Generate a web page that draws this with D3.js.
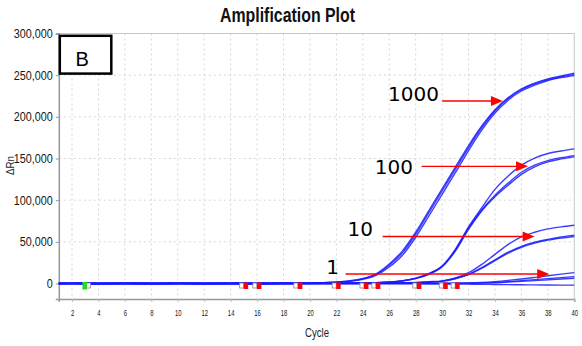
<!DOCTYPE html>
<html><head><meta charset="utf-8">
<script src="https://cdn.jsdelivr.net/npm/d3@7"></script>
<style>
html,body{margin:0;padding:0;background:#fff;}
svg{display:block;}
.tick text{font-family:"Liberation Sans",Arial,sans-serif;fill:#151515;}
</style></head>
<body>
<svg id="chart" width="582" height="346"></svg>
<script>
// ---------- DATA ----------
const cycles = d3.range(1, 41);
const xTicks = [2,4,6,8,10,12,14,16,18,20,22,24,26,28,30,32,34,36,38,40];
const yTicks = [0,50000,100000,150000,200000,250000,300000];
const yTickLabels = ["0","50,000","100,000","150,000","200,000","250,000","300,000"];

// ΔRn per cycle (cycles 1..40): three replicates per dilution + one flat control
const rep1000a = [300,200,300,200,100,200,300,200,100,200,300,200,100,200,300,200,300,400,500,700,1000,1700,3000,5600,11000,22000,37000,59000,85000,111000,137000,163000,187000,207000,222000,232500,239500,244500,248000,251000];
const rep1000b = [-200,-100,-200,-300,-200,-100,-200,-300,-200,-100,-200,-100,-200,-300,-200,-100,0,100,300,500,800,1400,2600,5000,9800,19800,34000,55500,81000,107000,133000,159500,184000,204500,220000,231000,238000,243500,247000,249500];
const rep1000c = [0,100,0,-100,0,100,0,-100,0,100,0,-100,0,100,0,-100,100,200,400,600,1000,1800,3200,6000,11700,23500,39200,61500,87600,113600,139600,165500,189000,208500,223000,233500,240500,245500,249000,252500];

const rep100a = [200,300,200,100,200,300,200,100,200,300,200,100,200,300,200,100,200,300,200,200,300,400,500,700,1000,1800,3400,6400,12000,21000,41000,68000,91000,113000,129000,142000,150500,156000,159000,161500];
const rep100b = [-300,-200,-300,-400,-300,-200,-300,-400,-300,-200,-300,-400,-300,-200,-300,-400,-300,-200,-200,-100,0,100,200,300,700,1500,3000,5800,11000,20000,39000,65000,87000,104000,118000,131000,140000,146000,149500,152000];
const rep100c = [0,-100,0,100,0,-100,0,100,0,-100,0,100,0,-100,0,100,0,0,100,100,200,300,400,500,850,1650,3200,6100,11500,20500,40000,66500,88500,106000,120500,133500,142000,147500,151000,153500];

const rep10a = [300,200,300,400,300,200,300,400,300,200,300,400,300,200,300,200,300,200,300,300,300,300,400,400,500,600,800,1300,2100,3200,6800,13000,23000,35000,47000,56000,61500,65500,68000,70000];
const rep10b = [-100,0,-100,-200,-100,0,-100,-200,-100,0,-100,-200,-100,0,-100,0,-100,0,0,0,100,100,200,200,300,400,600,1000,1700,2800,6000,11000,19000,28500,37500,44500,49500,53000,55800,58000];
const rep10c = [-400,-300,-400,-500,-400,-300,-400,-500,-400,-300,-400,-500,-400,-300,-400,-300,-400,-300,-300,-200,-200,-100,0,100,200,300,500,900,1500,2600,5700,10600,18400,27500,36500,43500,48500,52000,54500,56500];

const rep1a = [100,200,100,0,100,200,100,0,100,200,100,0,100,200,100,0,100,200,100,100,100,100,100,100,100,100,100,100,100,150,300,700,1300,2300,3700,5400,7300,9300,11200,13000];
const rep1b = [-200,-100,-200,-300,-200,-100,-200,-300,-200,-100,-200,-300,-200,-100,-200,-300,-200,-100,-100,-100,-100,-100,-100,-100,-100,-100,-100,-100,0,50,150,400,800,1400,2300,3400,4600,5900,7100,8200];
const rep1c = [0,100,0,-100,0,100,0,-100,0,100,0,-100,0,100,0,-100,0,100,0,0,0,0,0,0,0,0,0,0,0,0,50,150,450,950,1600,2500,3400,4400,5400,6300];
const repNTC = [400,300,400,500,400,300,400,500,400,300,400,500,400,300,400,300,200,200,100,100,100,0,0,0,0,-100,-100,-200,-300,-400,-600,-800,-1000,-1200,-1400,-1500,-1700,-1800,-1900,-2000];

const seriesList = [rep1000a,rep1000b,rep1000c,rep100a,rep100b,rep100c,rep10a,rep10b,rep10c,rep1a,rep1b,rep1c,repNTC];

// baseline / threshold markers (cycle)
const greenMarkers = [2.9];
const redMarkers = [15.1,16.1,19.2,22.1,24.2,25.1,28.2,30.2,31.1];

// annotations
const annoLabels = ["1000","100","10","1"];
const annoLabelCycle = [29.76,27.8,24.77,22.2];
const annoLabelValue = [219600,131400,57600,11400];
const annoArrowFrom = [30.0,28.45,25.5,22.7];
const annoArrowTo = [34.6,36.5,37.0,38.1];
const annoArrowValue = [219000,140600,56400,11400];

// ---------- CHART ----------
const svg = d3.select("#chart");
const x = d3.scaleLinear().domain([1,40]).range([58.8,574.3]);
const y = d3.scaleLinear().domain([-18600,300000]).range([299,33.5]);

function squeeze(sel, k){
  sel.each(function(){
    const w = this.getComputedTextLength();
    d3.select(this).attr("textLength", w*k).attr("lengthAdjust","spacingAndGlyphs");
  });
}
function fitTo(sel, target){
  sel.each(function(){
    d3.select(this).attr("textLength", target).attr("lengthAdjust","spacingAndGlyphs");
  });
}

// title
const title = svg.append("text").attr("x",287.5).attr("y",22).attr("text-anchor","middle")
  .style("font-family",'"Liberation Sans",Arial,sans-serif')
  .style("font-weight","bold").style("font-size","20px").attr("fill","#111")
  .text("Amplification Plot");
fitTo(title, 135);

// grid
const grid = svg.append("g");
grid.selectAll("line.v").data(xTicks.filter(t=>t<40)).enter().append("line")
  .attr("x1",d=>x(d)).attr("x2",d=>x(d)).attr("y1",y(300000)).attr("y2",y(-18600))
  .attr("stroke","#d6d6d6").attr("stroke-dasharray","2,3");
grid.selectAll("line.h").data(yTicks.filter(t=>t>0&&t<300000)).enter().append("line")
  .attr("x1",x(1)).attr("x2",x(40)).attr("y1",d=>y(d)).attr("y2",d=>y(d))
  .attr("stroke","#d6d6d6").attr("stroke-dasharray","2,3");

// frame top/right
svg.append("line").attr("x1",x(1)).attr("x2",x(40)).attr("y1",y(300000)).attr("y2",y(300000)).attr("stroke","#c8c8c8");
svg.append("line").attr("x1",x(40)).attr("x2",x(40)).attr("y1",y(300000)).attr("y2",y(-18600)).attr("stroke","#c8c8c8");

// axes
const yAxis = d3.axisLeft(y).tickValues(yTicks).tickFormat((d,i)=>yTickLabels[i]).tickSize(3).tickPadding(3);
const gy = svg.append("g").attr("transform",`translate(${x(1)},0)`).call(yAxis);
gy.select(".domain").attr("stroke","#999").attr("stroke-width",1.5);
gy.selectAll(".tick line").attr("stroke","#999");
gy.selectAll(".tick text").style("font-size","12px");
squeeze(gy.selectAll(".tick text"), 0.9);

const xAxis = d3.axisBottom(x).tickValues(xTicks).tickSize(3).tickPadding(7);
const gx = svg.append("g").attr("transform",`translate(0,${y(-18600)})`).call(xAxis);
gx.select(".domain").attr("stroke","#999").attr("stroke-width",1.5);
gx.selectAll(".tick line").attr("stroke","#bbb");
gx.selectAll(".tick text").style("font-size","9.5px");
squeeze(gx.selectAll(".tick text"), 0.62);

// axis titles
const yt = svg.append("text").attr("transform","translate(14,165.5) rotate(-90)").attr("text-anchor","middle")
  .style("font-family",'"Liberation Sans",Arial,sans-serif')
  .style("font-size","11px").attr("fill","#222").text("ΔRn");
fitTo(yt, 19);
const xt = svg.append("text").attr("x",317).attr("y",337).attr("text-anchor","middle")
  .style("font-family",'"Liberation Sans",Arial,sans-serif')
  .style("font-size","12.5px").attr("fill","#222").text("Cycle");
fitTo(xt, 24);

// curves
const line = d3.line().x((d,i)=>x(cycles[i])).y(d=>y(d)).curve(d3.curveMonotoneX);
svg.append("g").selectAll("path").data(seriesList).enter().append("path")
  .attr("d",line).attr("fill","none").attr("stroke","#1a1aff").attr("stroke-width",1.4).attr("stroke-opacity",0.85);

// markers
const mk = svg.append("g");
const markerY = y(-3000);
mk.selectAll("rect.wr").data(redMarkers).enter().append("rect")
  .attr("x",d=>x(d)-5.5).attr("y",markerY-3).attr("width",4).attr("height",5)
  .attr("fill","#fff").attr("stroke","#888").attr("stroke-width",0.8);
mk.selectAll("rect.wg").data(greenMarkers).enter().append("rect")
  .attr("x",d=>x(d)+2.5).attr("y",markerY-3).attr("width",4).attr("height",5)
  .attr("fill","#fff").attr("stroke","#888").attr("stroke-width",0.8);
mk.selectAll("rect.r").data(redMarkers).enter().append("rect")
  .attr("x",d=>x(d)-1.5).attr("y",markerY-3.5).attr("width",4.5).attr("height",6.5).attr("fill","#f00");
mk.selectAll("rect.g").data(greenMarkers).enter().append("rect")
  .attr("x",d=>x(d)-1.5).attr("y",markerY-4).attr("width",4.5).attr("height",7.5).attr("fill","#22dd22");

// annotations
const ann = svg.append("g");
annoLabels.forEach((lab,i)=>{
  ann.append("text").attr("x",x(annoLabelCycle[i])).attr("y",y(annoLabelValue[i]))
    .attr("text-anchor","end").style("font-family","DejaVu Sans, sans-serif").style("font-size","20px")
    .attr("fill","#000").text(lab);
  const x0 = x(annoArrowFrom[i]), x1 = x(annoArrowTo[i]), yy = y(annoArrowValue[i]);
  ann.append("line").attr("x1",x0).attr("x2",x1-10).attr("y1",yy).attr("y2",yy)
    .attr("stroke","#f00").attr("stroke-width",1.3);
  ann.append("path").attr("d",`M${x1},${yy} L${x1-12},${yy-5} L${x1-12},${yy+5} Z`).attr("fill","#f00");
});

// panel box "B"
svg.append("rect").attr("x",59.8).attr("y",35.8).attr("width",51.5).attr("height",37.8)
  .attr("fill","#fff").attr("stroke","#000").attr("stroke-width",2.5);
svg.append("text").attr("x",75.5).attr("y",66).style("font-family","Liberation Sans, Arial, sans-serif")
  .style("font-size","20px").attr("fill","#000").text("B");
</script>
</body></html>
